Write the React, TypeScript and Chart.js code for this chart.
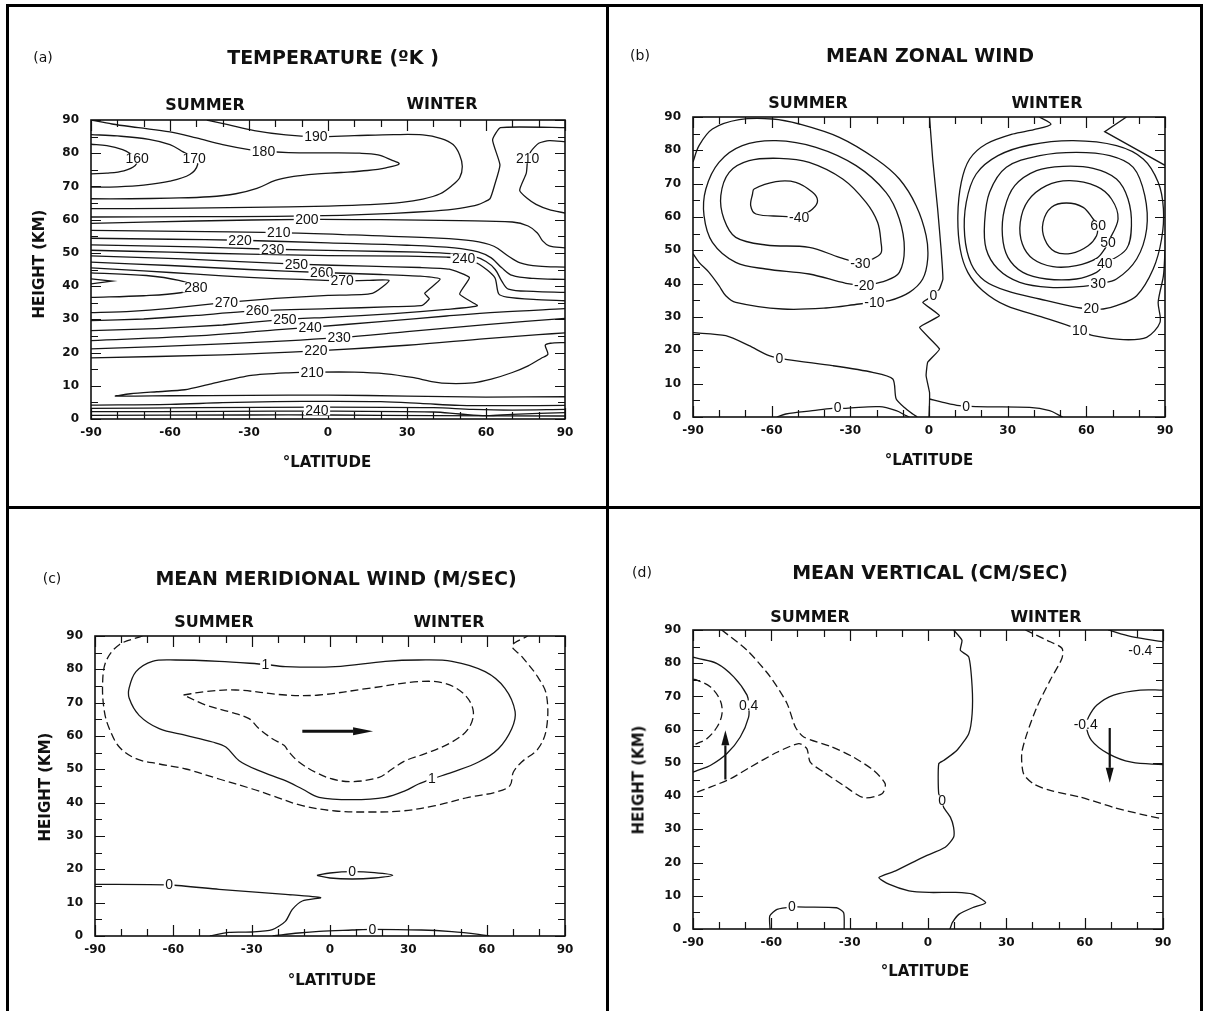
import React, { useEffect, useRef } from "react";
import { Chart, registerables } from "chart.js";
Chart.register(...registerables);

type P = [number, number];
type Lbl = [string, number, number];
type Arrow = [number, number, number, number];

// ---------------- shared axis ticks ----------------
const LAT_TICKS = [-90, -60, -30, 0, 30, 60, 90];
const KM_TICKS = [0, 10, 20, 30, 40, 50, 60, 70, 80, 90];
const LAT_MINOR = [-90, -80, -70, -60, -50, -40, -30, -20, -10, 0, 10, 20, 30, 40, 50, 60, 70, 80, 90];
const KM_MINOR = [0, 5, 10, 15, 20, 25, 30, 35, 40, 45, 50, 55, 60, 65, 70, 75, 80, 85, 90];

// ---------------- texts ----------------
const PANEL_TAGS = ["(a)", "(b)", "(c)", "(d)"];
const TITLES = ["TEMPERATURE (ºK )", "MEAN ZONAL WIND", "MEAN MERIDIONAL WIND (M/SEC)", "MEAN VERTICAL (CM/SEC)"];
const SEASONS = ["SUMMER", "WINTER"];
const X_TITLE = "°LATITUDE";
const Y_TITLE = "HEIGHT (KM)";

// ---------------- (a) temperature contours [lat, km] ----------------
const A_T160: P[] = [[-90, 82.7], [-84, 82.3], [-78, 81.1], [-74.5, 79.6], [-72.5, 78.4], [-73.2, 76.3], [-77.5, 74.7], [-84, 74], [-90, 73.8]];
const A_T170: P[] = [[-90, 85.6], [-80, 85.2], [-68, 84.2], [-60, 82.6], [-55, 80.4], [-51, 78.5], [-49.5, 76.6], [-52.5, 73.6], [-60, 71.6], [-70, 70.4], [-80, 69.9], [-90, 69.8]];
const A_T180: P[] = [[-90, 90], [-82, 88.8], [-72, 87.7], [-60, 86.4], [-50, 84.6], [-40, 82.6], [-30, 81.1], [-24.5, 80.6], [-15, 80.2], [0, 80.1], [12, 80], [19, 79.5], [24, 78], [27, 76.8], [22, 75.6], [15, 74.8], [5, 74.2], [-5, 73.7], [-13, 73], [-20, 71.8], [-27, 69.4], [-35, 67.8], [-45, 66.9], [-60, 66.5], [-75, 66.3], [-90, 66.3]];
const A_T190: P[] = [[-46, 90], [-38, 88.6], [-28, 86.8], [-16, 85.5], [-4.6, 85], [10, 85.3], [25, 85.6], [36, 85.5], [43, 84.4], [47.5, 82.6], [50, 79.5], [51, 76], [50, 72.6], [47, 70.2], [42.6, 67.8], [36, 66.2], [28, 65.2], [16, 64.5], [0, 64.1], [-30, 63.7], [-60, 63.4], [-90, 63.3]];
const A_T200N: P[] = [[90, 87.7], [65.5, 87.7], [62.5, 84], [65.3, 76.5], [63.3, 70.5], [61.5, 66.3], [57, 64.5], [50, 63.4], [40, 62.6], [25, 61.9], [5, 61.3], [-20, 61], [-50, 60.9], [-90, 60.8]];
const A_T210C: P[] = [[90, 83.5], [84, 83.8], [80, 83], [77, 80.5], [75.8, 78], [75.3, 74], [72.8, 68.8], [76, 66.2], [79, 64.6], [84, 63], [90, 62]];
const A_T200: P[] = [[-90, 58.9], [-50, 59.6], [-8, 60.1], [20, 60], [50, 59.7], [70, 59.3], [76, 58.1], [79.5, 56], [81.5, 53.6], [84, 52.1], [90, 51.5]];
const A_T210: P[] = [[-90, 56.8], [-55, 56.5], [-18.7, 56.1], [10, 55.4], [40, 54.5], [55, 53.6], [63, 52], [68, 49.3], [73, 47], [80, 46], [90, 45.7]];
const A_T220: P[] = [[-90, 54.4], [-60, 54.1], [-33.4, 53.8], [0, 53], [30, 52.3], [48, 51.5], [57, 50.3], [62, 48.5], [66, 45.5], [70, 43.2], [78, 42.3], [90, 42]];
const A_T230: P[] = [[-90, 52.4], [-50, 51.8], [-21, 51.1], [10, 50.6], [35, 50.2], [47, 49.8], [55, 49], [60, 47.4], [63.5, 45], [66, 41.5], [68.5, 39.1], [78, 38.4], [90, 38.1]];
const A_T240: P[] = [[-90, 50.8], [-60, 50.2], [-30, 49.6], [0, 49.2], [30, 49], [45, 48.7], [51.5, 48.3], [57.4, 46.6], [63.3, 42.6], [64.8, 37.7], [68, 36.7], [78, 36], [90, 35.6]];
const A_T250: P[] = [[-90, 49.1], [-55, 48.2], [-12, 46.6], [15, 46], [35, 45.6], [46, 45.1], [53.7, 42.6], [50, 37.6], [56.7, 34.1], [45, 33], [25, 31.7], [0, 30.6], [-16.4, 30], [-40, 28.3], [-65, 27.2], [-90, 26.6]];
const A_T260: P[] = [[-90, 47.2], [-60, 46.2], [-30, 45], [-2.4, 44.1], [20, 43.5], [35, 43], [42.6, 42.1], [36.7, 37.8], [38.5, 36.2], [35.8, 34.2], [25, 33.8], [0, 33.2], [-26.8, 32.6], [-50, 31.2], [-70, 30.1], [-90, 29.6]];
const A_T270: P[] = [[-90, 45.5], [-70, 44.6], [-50, 43.6], [-30, 42.6], [-10, 42], [5.4, 41.6], [15, 41.7], [23.2, 41.7], [16.8, 37.8], [0, 37.2], [-20, 36.3], [-38.6, 35.1], [-60, 33.3], [-75, 32.4], [-90, 32]];
const A_T280: P[] = [[-90, 44], [-69, 43.2], [-56.6, 41.7], [-50.2, 39.6], [-56, 38], [-70, 37.1], [-90, 36.6]];
const A_T290: P[] = [[-90, 42.2], [-82, 41.5], [-90, 40.7]];
const A_T240L: P[] = [[-90, 23.6], [-50, 25], [-20, 26.8], [-6.8, 27.6], [20, 29.3], [45, 31], [65, 32.2], [90, 33.2]];
const A_T230L: P[] = [[-90, 21.1], [-40, 22.6], [4.2, 24.5], [30, 26.3], [60, 28.4], [90, 30.3]];
const A_T220L: P[] = [[-90, 18.4], [-40, 19.3], [-4.6, 20.5], [30, 22.2], [60, 24.2], [80, 25.4], [90, 25.9]];
const A_T210L: P[] = [[90, 6.7], [60, 6.6], [30, 6.9], [0, 7.2], [-30, 7.1], [-60, 7], [-80.7, 6.9], [-75, 7.6], [-65, 8.2], [-54.4, 8.8], [-44.3, 10.6], [-29.2, 13.1], [-15, 13.9], [-4.6, 14.1], [10, 14.1], [22, 13.6], [32, 12.5], [40, 11.2], [46, 10.7], [55, 10.9], [62, 12], [70, 14], [76, 16], [81, 18.3], [83.5, 19.5], [82.5, 22.2], [84.5, 22.8], [90, 23]];
const A_S1: P[] = [[-90, 4.2], [-60, 4.4], [-40, 4.9], [-20, 5.2], [0, 5.3], [20, 5.2], [35, 4.7], [50, 4.1], [70, 4], [90, 4.1]];
const A_S2: P[] = [[-90, 3.2], [-50, 3.4], [0, 3.6], [40, 3.4], [55, 2.9], [70, 2.7], [90, 2.9]];
const A_S3: P[] = [[-90, 2.2], [-40, 2.3], [0, 2.4], [40, 2.1], [50, 1.5], [60, 1], [70, 1.4], [90, 1.9]];
const A_S4: P[] = [[-90, 1.1], [-30, 1.2], [0, 1.2], [40, 1], [90, 0.9]];
const A_LABELS: Lbl[] = [
  ["160", -72.5, 78.4], ["170", -50.8, 78.5], ["180", -24.5, 80.6], ["190", -4.6, 85], ["210", 75.8, 78.5],
  ["200", -8, 60.1], ["210", -18.7, 56.1], ["220", -33.4, 53.8], ["230", -21, 51.1], ["240", 51.5, 48.3],
  ["250", -12, 46.6], ["260", -2.4, 44.1], ["270", 5.4, 41.6], ["280", -50.2, 39.6], ["270", -38.6, 35.1],
  ["260", -26.8, 32.6], ["250", -16.4, 30], ["240", -6.8, 27.6], ["230", 4.2, 24.5], ["220", -4.6, 20.5],
  ["210", -6, 14.1], ["240", -4.2, 2.6],
];

// ---------------- (b) zonal wind contours ----------------
const B_M40: P[] = [[-49.5, 59.9], [-55.9, 60.2], [-66, 60.9], [-68, 63.4], [-67.3, 66.9], [-66.7, 68.4], [-58.4, 70.6], [-50.8, 70.4], [-44.4, 67.4], [-42.5, 64.9], [-44.4, 62.4], [-49.5, 59.9]];
const B_M30: P[] = [[-26.6, 46.2], [-34.2, 47.9], [-45.7, 50.9], [-62.2, 51.6], [-73.7, 53.9], [-78.2, 59.4], [-79.4, 66.4], [-76.2, 73.4], [-68.6, 76.9], [-57.1, 77.6], [-45.7, 76.4], [-32.9, 71.4], [-24, 64.4], [-19.6, 58.4], [-18.3, 52.4], [-18.3, 49.2], [-21.5, 47.4], [-26.6, 46.2]];
const B_M20: P[] = [[-24.7, 39.4], [-31.7, 40.1], [-45.7, 42.9], [-62.2, 44.4], [-73.7, 46.4], [-82.6, 52.4], [-85.8, 60.4], [-85.1, 68.4], [-80.1, 76.4], [-71.2, 81.4], [-58.4, 82.9], [-43.1, 80.9], [-27.8, 75.4], [-16.4, 67.4], [-11.3, 59.4], [-9.4, 50.4], [-11.3, 43.4], [-16.4, 40.9], [-24.7, 39.4]];
const B_M10: P[] = [[-90, 76.5], [-87.7, 81.4], [-82.6, 86.4], [-72.4, 89.2], [-59.7, 89.4], [-49.5, 87.9], [-34.2, 83.9], [-20.2, 77.4], [-11.3, 71.4], [-4.9, 63.4], [-1.1, 54.4], [-0.5, 47.4], [-2.4, 41.4], [-7.5, 37.4], [-15.1, 34.9], [-20.8, 34.4], [-26.6, 33.9], [-39.3, 32.7], [-55.9, 32.4], [-73.7, 34.4], [-77.5, 36.4], [-80.1, 39.4], [-83.9, 43.4], [-87.7, 46.4], [-90, 49]];
const B_Z0L: P[] = [[-90, 25.3], [-77.5, 24.4], [-68.6, 21.4], [-61, 18.4], [-54, 17.2], [-36.8, 15.4], [-21.5, 13.4], [-13.8, 11.4], [-12.5, 5.4], [-8.7, 2.4], [-6.2, 0.9], [-4.5, 0]];
const B_Z0S: P[] = [[-58, 0], [-54.6, 0.9], [-44.4, 1.9], [-36.8, 2.6], [-31.7, 2.6], [-18.9, 3.1], [-12.5, 1.9], [-8.7, 0.4], [-7.5, 0]];
const B_Z0V: P[] = [[0.2, 90], [1.4, 77.4], [3.3, 62.4], [4.6, 50.4], [5.3, 41.4], [4, 38.4], [1.7, 36.4], [-2.4, 34.4], [4, 30.4], [-3.6, 26.9], [4, 20.4], [-0.5, 16.4], [-1.1, 12.4], [0.2, 7.4], [0.2, 4.4], [0, 0]];
const B_Z0R: P[] = [[0.2, 5.4], [5.3, 4.4], [11.6, 3.4], [18, 3.1], [38.4, 2.9], [46, 1.9], [49.9, 0.4], [51, 0]];
const B_P60: P[] = [[64.5, 57.4], [62.6, 59.4], [58.8, 62.9], [52.4, 64.2], [46.7, 62.9], [43.5, 58.4], [44.1, 53.4], [48, 49.6], [54.3, 49.1], [60.7, 51.4], [63.9, 54.4], [64.5, 57.4]];
const B_P50: P[] = [[68.3, 52.4], [72.1, 59.4], [69.6, 65.4], [63.9, 69.2], [53.7, 70.9], [44.8, 69.4], [37.8, 64.9], [34.8, 58.4], [35.6, 51.9], [39.7, 47.4], [47.3, 45.1], [56.2, 45.4], [63.9, 47.6], [67, 50.4], [68.3, 52.4]];
const B_P40: P[] = [[67, 45.9], [75.3, 50.4], [77.2, 57.4], [75.9, 65.4], [71.5, 71.4], [62.6, 74.6], [51.1, 75.2], [41, 73.9], [32.7, 69.4], [28.8, 62.4], [28, 54.4], [30.1, 47.9], [35.8, 43.4], [44.8, 41.4], [56.2, 41.4], [63.9, 43.4], [67, 45.9]];
const B_P30: P[] = [[64.5, 39.9], [71.5, 41.4], [79.2, 47.4], [83, 56.4], [82.3, 66.4], [77.9, 74.9], [69, 78.4], [56.2, 79.4], [42.2, 78.4], [29.5, 74.9], [23.1, 67.4], [21.2, 58.4], [21.8, 50.4], [26.3, 44.4], [34.6, 40.4], [46, 38.9], [58.8, 39.2], [64.5, 39.9]];
const B_P20: P[] = [[61.9, 32.4], [56.2, 32.9], [42.2, 35.4], [29.5, 37.9], [21.2, 40.9], [16.1, 45.9], [13.6, 54.4], [14.2, 64.4], [18, 72.9], [26.3, 78.4], [38.4, 81.6], [55, 82.9], [71.5, 81.4], [81.7, 77.4], [87.4, 70.4], [89.4, 62.4], [88.7, 53.4], [85.5, 44.4], [79.2, 36.4], [71.5, 33.4], [66.4, 32.4], [61.9, 32.4]];
const B_P10: P[] = [[42.1, 90], [46.5, 87.8], [40, 86.2], [32, 84.9], [21.8, 81.9], [15.5, 77.4], [12.3, 70.4], [11, 60.4], [11.9, 50.4], [14.8, 43.4], [20.5, 37.9], [29.5, 33.4], [43.5, 29.9], [55, 26.9], [57.5, 25.9], [62.6, 24.4], [74.1, 23.2], [83, 23.9], [88.1, 28.4], [87.4, 34.4], [89.4, 42.4], [90, 50]];
const B_P10N: P[] = [[75.3, 90], [67, 85.6], [90, 75.5]];
const B_LABELS: Lbl[] = [
  ["-40", -49.5, 59.9], ["-30", -26.2, 46.1], ["-20", -24.7, 39.4], ["-10", -20.8, 34.4],
  ["0", 1.7, 36.4], ["0", -57.1, 17.4], ["0", -34.8, 2.8], ["0", 14.2, 3.1],
  ["60", 64.5, 57.4], ["50", 68.3, 52.4], ["40", 67, 45.9], ["30", 64.5, 39.9], ["20", 61.9, 32.4], ["10", 57.5, 25.9],
];

// ---------------- (c) meridional wind contours ----------------
const C_ONE: P[] = [[-24.7, 81.5], [-17.1, 80.8], [2, 80.8], [21.2, 82.4], [33.9, 82.8], [46.7, 82.4], [59.4, 79.3], [67, 74.3], [70.9, 67.3], [69.6, 62.2], [64.5, 56.2], [56.9, 52.2], [46.7, 49.1], [39, 47.1], [33.9, 45.6], [28.9, 43.6], [21.2, 41.6], [8.5, 40.9], [-4.2, 41.6], [-10.6, 44.1], [-17.1, 46.6], [-27.2, 49.6], [-34.8, 52.6], [-39.9, 56.7], [-45, 58.2], [-55.2, 60.2], [-65.4, 62.2], [-73.1, 66.2], [-76.9, 71.3], [-76.9, 74.5], [-74.3, 79.3], [-68, 82.4], [-59.1, 82.8], [-42.5, 82.4], [-24.7, 81.5]];
const C_INNER: P[] = [[-56.1, 72.3], [-47.9, 73.3], [-36.1, 73.8], [-17.1, 72.3], [-4.2, 72.3], [14.8, 74.3], [33.9, 76.3], [44.1, 75.8], [51.7, 72.3], [54.9, 67.3], [53, 62.2], [46.7, 58.2], [36.5, 54.7], [28.9, 52.6], [23.8, 50.1], [18.8, 47.6], [8.5, 46.3], [0.9, 47.1], [-5.5, 49.1], [-11.9, 52.2], [-15.7, 55.2], [-17.6, 57.2], [-22.1, 59.2], [-27.2, 62.2], [-31, 65.2], [-38.7, 67.3], [-47.6, 69.3], [-56.1, 72.3]];
const C_OUTER: P[] = [[-71.8, 90], [-80.7, 87.4], [-85.8, 82.4], [-87.1, 75.3], [-86.4, 67.3], [-84.5, 62.2], [-80.7, 56.7], [-74.3, 53.2], [-65.4, 51.6], [-55.2, 50.1], [-42.5, 47.1], [-29.7, 44.1], [-22.1, 42.1], [-10.6, 39.1], [2.1, 37.5], [14.8, 37.2], [27.6, 37.5], [40.3, 39.1], [53, 41.6], [63.2, 43.1], [68.9, 45.1], [70.2, 49.1], [73.4, 52.2], [79.7, 56.2], [82.9, 62.2], [82.9, 72.3], [79.5, 77.8], [73.5, 83.8], [69.8, 87.1], [75.7, 90]];
const C_Z0L: P[] = [[-90, 15.5], [-61.6, 15.3], [-42.5, 14], [-17.1, 12.5], [-3.6, 11.5], [-10.6, 10.5], [-14.5, 7.9], [-17.1, 4.4], [-22.1, 1.9], [-29.7, 1.2], [-38.7, 1.1], [-46, 0]];
const C_Z0E: P[] = [[-5, 18.2], [0, 18.9], [8.5, 19.3], [17, 19], [24, 18.2], [17, 17.4], [8.5, 17.1], [0, 17.4], [-5, 18.2]];
const C_Z0B: P[] = [[-22, 0], [-12, 0.9], [-4.2, 1.4], [8.5, 1.8], [16.2, 2], [35, 1.8], [46.7, 1.3], [56.9, 0.5], [61, 0]];
const C_LABELS: Lbl[] = [["1", -24.7, 81.5], ["1", 39, 47.1], ["0", -61.6, 15.3], ["0", 8.5, 19.4], ["0", 16.2, 2]];
const C_ARROWS: Arrow[] = [[-10.6, 61.4, 16.5, 61.4]];

// ---------------- (d) vertical wind contours ----------------
const D_P04: P[] = [[-90, 81.8], [-88.5, 81.5], [-80.8, 79.9], [-74.4, 75.9], [-69.3, 70.4], [-68.7, 67.3], [-68.7, 63.8], [-71.9, 57.8], [-77, 52.8], [-83.4, 49.2], [-88.5, 47.7], [-90, 47.2]];
const D_INNER: P[] = [[-90, 75.2], [-88.5, 74.9], [-83.4, 72.9], [-79.6, 68.9], [-78.9, 64.8], [-80.8, 60.8], [-84.7, 57.3], [-88.5, 55.8], [-90, 55.3]];
const D_BIG: P[] = [[-79, 90], [-69.3, 83.9], [-60.4, 75.9], [-54, 67.9], [-50.8, 60.8], [-47.6, 57.8], [-37.4, 55], [-28.5, 51.7], [-20.8, 47.7], [-16.4, 43.7], [-17.6, 40.7], [-24.6, 39.5], [-32.3, 43.2], [-39.9, 47.2], [-45.1, 50.2], [-46.4, 54.3], [-49.5, 55.8], [-57.8, 53.2], [-68.1, 48.7], [-75.7, 45.2], [-83.4, 42.7], [-88.5, 41.2], [-90, 40.8]];
const D_Z0: P[] = [[9.8, 90], [13, 86.9], [12.4, 83.9], [15.6, 81.9], [16.9, 72.9], [16.9, 64.8], [15.6, 58.8], [11.1, 53.8], [6, 50.7], [4.1, 49.7], [4.1, 40.7], [5.4, 38.7], [6, 36.6], [8.6, 33.6], [9.8, 30.6], [9.8, 27.6], [6.6, 24.6], [-2.2, 21.5], [-12.4, 17.5], [-18.8, 15.5], [-15, 13.5], [-7.3, 11.5], [0.4, 11], [10.6, 11], [17, 10.5], [22.1, 7.9], [17, 6.4], [11.8, 4.4], [9.3, 1.9], [8.6, 0.4], [8.3, 0]];
const D_Z0S: P[] = [[-60.5, 0], [-60.6, 3.9], [-57.8, 5.9], [-52.1, 6.6], [-46.4, 6.6], [-35, 6.4], [-32.3, 4.9], [-32.1, 0]];
const D_RIGHT: P[] = [[37.3, 90], [45.6, 86.9], [51.3, 84.5], [51.3, 81.5], [46.8, 74.9], [41.7, 66.8], [37.9, 58.8], [35.9, 52.8], [36.6, 46.7], [40.4, 43.7], [46.8, 41.7], [58.3, 39.7], [71.1, 36.6], [81.3, 34.6], [90, 33.1]];
const D_M04: P[] = [[90, 71.9], [81.3, 71.9], [71.1, 70.4], [64.7, 67.4], [61.5, 63.8], [60.6, 61.2], [62.6, 56.8], [69, 52.8], [77.9, 50.2], [90, 49.5]];
const D_M04T: P[] = [[69, 90], [77.9, 88], [90, 86.5]];
const D_LABELS: Lbl[] = [["0.4", -68.7, 67.3], ["0", 5.4, 38.7], ["0", -52.1, 6.6], ["-0.4", 60.4, 61.5], ["-0.4", 81.3, 83.9]];
const D_ARROWS: Arrow[] = [[-77.6, 45, -77.6, 59.8], [69.6, 60.5, 69.6, 44]];

// ---------------- panel assembly ----------------
interface LineSpec { pts: P[]; dashed?: boolean; tension?: number; }

const A_LINES: LineSpec[] = [
  { pts: A_T160 }, { pts: A_T170 }, { pts: A_T180 }, { pts: A_T190 }, { pts: A_T200N, tension: 0.15 },
  { pts: A_T210C, tension: 0.2 }, { pts: A_T200 }, { pts: A_T210 }, { pts: A_T220 }, { pts: A_T230 },
  { pts: A_T240, tension: 0.25 }, { pts: A_T250, tension: 0.15 }, { pts: A_T260, tension: 0.15 },
  { pts: A_T270, tension: 0.2 }, { pts: A_T280 }, { pts: A_T290, tension: 0 }, { pts: A_T240L },
  { pts: A_T230L }, { pts: A_T220L }, { pts: A_T210L, tension: 0.25 },
  { pts: A_S1 }, { pts: A_S2 }, { pts: A_S3 }, { pts: A_S4 },
];
const B_LINES: LineSpec[] = [
  { pts: B_M40 }, { pts: B_M30 }, { pts: B_M20 }, { pts: B_M10 }, { pts: B_Z0L, tension: 0.25 },
  { pts: B_Z0S }, { pts: B_Z0V, tension: 0.1 }, { pts: B_Z0R }, { pts: B_P60 }, { pts: B_P50 },
  { pts: B_P40 }, { pts: B_P30 }, { pts: B_P20 }, { pts: B_P10, tension: 0.3 }, { pts: B_P10N, tension: 0 },
];
const C_LINES: LineSpec[] = [
  { pts: C_ONE }, { pts: C_INNER, dashed: true }, { pts: C_OUTER, dashed: true },
  { pts: C_Z0L, tension: 0.25 }, { pts: C_Z0E }, { pts: C_Z0B },
];
const D_LINES: LineSpec[] = [
  { pts: D_P04 }, { pts: D_INNER, dashed: true }, { pts: D_BIG, dashed: true, tension: 0.25 },
  { pts: D_Z0, tension: 0.2 }, { pts: D_Z0S, tension: 0.2 }, { pts: D_RIGHT, dashed: true, tension: 0.25 },
  { pts: D_M04 }, { pts: D_M04T },
];

const PANELS = [
  { lines: A_LINES, labels: A_LABELS, arrows: [] as Arrow[] },
  { lines: B_LINES, labels: B_LABELS, arrows: [] as Arrow[] },
  { lines: C_LINES, labels: C_LABELS, arrows: C_ARROWS },
  { lines: D_LINES, labels: D_LABELS, arrows: D_ARROWS },
];

// layout (pixels) per panel: canvas box, plot area, text anchors
const LAYOUT = [
  { box: [0, 0, 607, 507], area: [91, 565, 120, 419], tag: [43, 57], title: [333, 57], summer: [205, 105], winter: [442, 104], xt: [327, 462], yt: [39, 264] as number[] | null, arrowW: 3, head: 20 },
  { box: [607, 0, 598, 507], area: [693, 1165, 117, 417], tag: [640, 55], title: [930, 55], summer: [808, 103], winter: [1047, 103], xt: [929, 460], yt: null, arrowW: 3, head: 20 },
  { box: [0, 507, 607, 504], area: [95, 565, 636, 936], tag: [52, 578], title: [336, 578], summer: [214, 622], winter: [449, 622], xt: [332, 980], yt: [45, 787], arrowW: 3, head: 20 },
  { box: [607, 507, 598, 504], area: [693, 1163, 630, 929], tag: [642, 572], title: [930, 572], summer: [810, 617], winter: [1046, 617], xt: [925, 971], yt: [639, 780], arrowW: 2.2, head: 15 },
];

const LABEL_FONT = '14px "Liberation Sans Narrow", "Liberation Sans", Arial, sans-serif';
const TICK_FONT = { family: "DejaVu Sans", size: 12, weight: "bold" as const };

function overlayPlugin(labels: Lbl[], arrows: Arrow[], arrowW: number, head: number) {
  return {
    id: "overlay",
    afterDatasetsDraw(chart: any) {
      const { ctx, chartArea, scales } = chart;
      const { left, right, top, bottom } = chartArea;
      const xs = scales.x, ys = scales.y;
      ctx.save();
      ctx.setLineDash([]);
      ctx.strokeStyle = "#111";
      ctx.fillStyle = "#111";
      ctx.lineWidth = 1.2;
      ctx.beginPath();
      for (const v of LAT_MINOR) {
        const px = Math.round(xs.getPixelForValue(v)) + 0.5;
        const len = LAT_TICKS.includes(v) ? 11 : 7;
        ctx.moveTo(px, bottom); ctx.lineTo(px, bottom - len);
        ctx.moveTo(px, top); ctx.lineTo(px, top + len);
      }
      for (const h of KM_MINOR) {
        const py = Math.round(ys.getPixelForValue(h)) + 0.5;
        const len = KM_TICKS.includes(h) ? 10 : 7;
        ctx.moveTo(left, py); ctx.lineTo(left + len, py);
        ctx.moveTo(right, py); ctx.lineTo(right - len, py);
      }
      ctx.stroke();
      ctx.lineWidth = 1.6;
      ctx.strokeRect(left, top, right - left, bottom - top);

      ctx.font = LABEL_FONT;
      ctx.textAlign = "center";
      ctx.textBaseline = "middle";
      for (const [t, lx, ly] of labels) {
        const px = xs.getPixelForValue(lx);
        const py = ys.getPixelForValue(ly);
        const w = ctx.measureText(t).width;
        ctx.fillStyle = "#fff";
        ctx.fillRect(px - w / 2 - 1.5, py - 5, w + 3, 10);
        ctx.fillStyle = "#111";
        ctx.fillText(t, px, py + 0.5);
      }

      for (const [x1v, y1v, x2v, y2v] of arrows) {
        const x1 = xs.getPixelForValue(x1v), y1 = ys.getPixelForValue(y1v);
        const x2 = xs.getPixelForValue(x2v), y2 = ys.getPixelForValue(y2v);
        const ang = Math.atan2(y2 - y1, x2 - x1);
        const bx = x2 - head * Math.cos(ang), by = y2 - head * Math.sin(ang);
        const hw = 4;
        ctx.lineWidth = arrowW;
        ctx.beginPath(); ctx.moveTo(x1, y1); ctx.lineTo(bx, by); ctx.stroke();
        ctx.beginPath();
        ctx.moveTo(x2, y2);
        ctx.lineTo(bx - hw * Math.sin(ang), by + hw * Math.cos(ang));
        ctx.lineTo(bx + hw * Math.sin(ang), by - hw * Math.cos(ang));
        ctx.closePath(); ctx.fill();
      }
      ctx.restore();
    },
  };
}

function Panel({ idx }: { idx: number }) {
  const ref = useRef<HTMLCanvasElement>(null);
  const L = LAYOUT[idx];
  const [bx, by, bw, bh] = L.box;
  useEffect(() => {
    const P = PANELS[idx];
    const [l, r, t, b] = L.area;
    const chart = new Chart(ref.current as HTMLCanvasElement, {
      type: "scatter",
      data: {
        datasets: P.lines.map((ln) => ({
          data: ln.pts.map(([x, y]) => ({ x, y })),
          showLine: true,
          pointRadius: 0,
          pointHoverRadius: 0,
          borderColor: "#161616",
          borderWidth: 1.3,
          borderDash: ln.dashed ? [8, 4] : [],
          tension: ln.tension ?? 0.35,
          fill: false,
        })),
      },
      options: {
        animation: false,
        responsive: false,
        events: [],
        layout: { padding: { left: l - bx - 40, right: bx + bw - r, top: t - by, bottom: by + bh - b - 40 } },
        plugins: { legend: { display: false }, tooltip: { enabled: false }, title: { display: false } },
        scales: {
          x: {
            type: "linear", min: -90, max: 90,
            afterFit: (s: any) => { s.height = 40; },
            afterBuildTicks: (s: any) => { s.ticks = LAT_TICKS.map((v) => ({ value: v })); },
            ticks: { autoSkip: false, maxRotation: 0, padding: 7, color: "#111", font: TICK_FONT },
            grid: { display: false, drawTicks: false },
            border: { display: false },
          },
          y: {
            type: "linear", min: 0, max: 90,
            afterFit: (s: any) => { s.width = 40; },
            afterBuildTicks: (s: any) => { s.ticks = KM_TICKS.map((v) => ({ value: v })); },
            ticks: { autoSkip: false, padding: 12, color: "#111", font: TICK_FONT },
            grid: { display: false, drawTicks: false },
            border: { display: false },
          },
        },
      } as any,
      plugins: [overlayPlugin(P.labels, P.arrows, L.arrowW, L.head)],
    });
    return () => chart.destroy();
  }, [idx]);
  return <canvas ref={ref} width={bw} height={bh} style={{ position: "absolute", left: bx, top: by, width: bw, height: bh }} />;
}

function Txt({ x, y, size, bold, rot, children }: any) {
  return (
    <div
      style={{
        position: "absolute", left: x, top: y,
        transform: `translate(-50%, -50%)${rot ? " rotate(-90deg)" : ""}`,
        fontFamily: '"DejaVu Sans", sans-serif', fontSize: size, fontWeight: bold ? 700 : 400,
        whiteSpace: "nowrap", lineHeight: 1, color: "#111",
      }}
    >
      {children}
    </div>
  );
}

function Line({ x, y, w, h }: any) {
  return <div style={{ position: "absolute", left: x, top: y, width: w, height: h, background: "#000" }} />;
}

export default function App() {
  return (
    <div style={{ position: "absolute", left: 0, top: 0, width: 1205, height: 1011, background: "#fff", overflow: "hidden" }}>
      {LAYOUT.map((_, i) => <Panel key={"p" + i} idx={i} />)}
      {LAYOUT.map((L, i) => (
        <React.Fragment key={"t" + i}>
          <Txt x={L.tag[0]} y={L.tag[1]} size={14}>{PANEL_TAGS[i]}</Txt>
          <Txt x={L.title[0]} y={L.title[1]} size={19} bold>{TITLES[i]}</Txt>
          <Txt x={L.summer[0]} y={L.summer[1]} size={16} bold>{SEASONS[0]}</Txt>
          <Txt x={L.winter[0]} y={L.winter[1]} size={16} bold>{SEASONS[1]}</Txt>
          <Txt x={L.xt[0]} y={L.xt[1]} size={15} bold>{X_TITLE}</Txt>
          {L.yt ? <Txt x={L.yt[0]} y={L.yt[1]} size={15} bold rot>{Y_TITLE}</Txt> : null}
        </React.Fragment>
      ))}
      <Line x={6} y={4} w={1197} h={2.5} />
      <Line x={6} y={4} w={2.5} h={1007} />
      <Line x={1200} y={4} w={2.5} h={1007} />
      <Line x={606} y={4} w={2.5} h={1007} />
      <Line x={6} y={506} w={1197} h={2.5} />
    </div>
  );
}
